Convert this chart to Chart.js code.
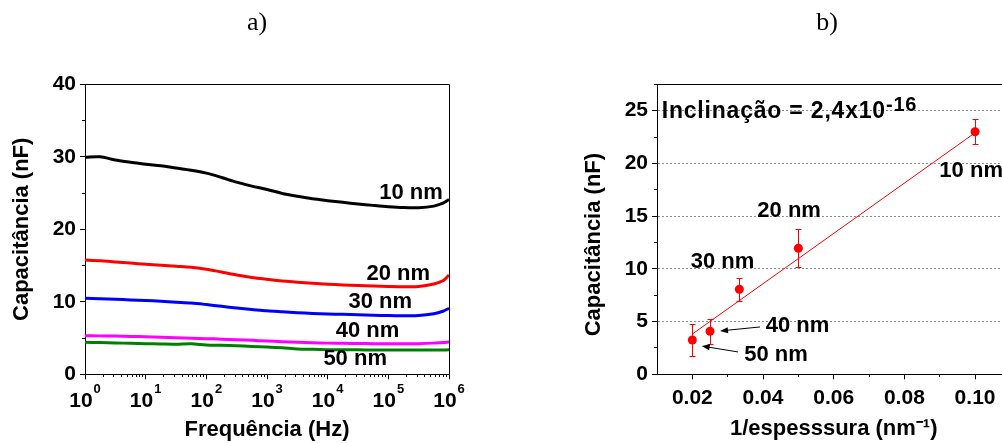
<!DOCTYPE html>
<html>
<head>
<meta charset="utf-8">
<script src="https://cdn.jsdelivr.net/npm/chart.js@4.4.1/dist/chart.umd.min.js"></script>
<style>
  html, body { margin: 0; padding: 0; background: #fff; overflow: hidden; }
  body { width: 1002px; height: 443px; position: relative; }
  canvas { position: absolute; top: 0; }
  .panel { position: absolute; top: 9px; width: 100px; text-align: center;
    font: 26px/26px 'Liberation Serif', 'Times New Roman', serif; color: #000; }
</style>
</head>
<body>
<canvas id="chartA" width="514" height="443" style="left:0"></canvas>
<canvas id="chartB" width="654" height="443" style="left:500px"></canvas>
<div class="panel" style="left:207px">a)</div>
<div class="panel" style="left:777px">b)</div>
<script>
// ---- a) capacitance vs frequency ----
const freqHz = [1, 1.78, 3.16, 5.62, 10, 17.8, 31.6, 56.2, 100, 178, 316, 562, 1000, 1780, 3160, 5620,
  1e4, 1.78e4, 3.16e4, 5.62e4, 1e5, 1.78e5, 3.16e5, 5.62e5, 7.94e5, 1e6];
const cap10nm = [29.95, 30.0, 29.55, 29.25, 28.97, 28.75, 28.45, 28.15, 27.75, 27.15, 26.5, 25.95, 25.5,
  24.95, 24.55, 24.2, 23.95, 23.72, 23.5, 23.3, 23.12, 23.0, 22.98, 23.2, 23.6, 24.1];
const cap20nm = [15.77, 15.65, 15.5, 15.35, 15.18, 15.05, 14.9, 14.75, 14.5, 14.1, 13.7, 13.35, 13.1,
  12.88, 12.7, 12.55, 12.42, 12.33, 12.25, 12.18, 12.12, 12.08, 12.1, 12.45, 12.9, 13.7];
const cap30nm = [10.48, 10.42, 10.35, 10.25, 10.17, 10.08, 9.95, 9.83, 9.62, 9.38, 9.15, 8.95, 8.75,
  8.62, 8.5, 8.4, 8.32, 8.27, 8.2, 8.15, 8.1, 8.08, 8.1, 8.35, 8.7, 9.1];
const cap40nm = [5.33, 5.3, 5.27, 5.22, 5.18, 5.12, 5.05, 4.98, 4.92, 4.85, 4.76, 4.68, 4.6,
  4.5, 4.42, 4.35, 4.3, 4.27, 4.25, 4.23, 4.22, 4.22, 4.23, 4.3, 4.38, 4.45];
const cap50nm = [4.41, 4.38, 4.33, 4.27, 4.22, 4.18, 4.15, 4.2, 4.05, 4.0, 3.93, 3.85, 3.76,
  3.65, 3.5, 3.44, 3.4, 3.38, 3.37, 3.36, 3.35, 3.35, 3.35, 3.35, 3.36, 3.37];
const freqTicks = [1, 10, 100, 1e3, 1e4, 1e5, 1e6];
const capTicksA = [0, 10, 20, 30, 40];
const capMinorA = [5, 15, 25, 35];
const labelsA = [
  { text: "10 nm", x: 2.36e5, y: 25.0 },
  { text: "20 nm", x: 1.46e5, y: 13.86 },
  { text: "30 nm", x: 7.35e4, y: 9.97 },
  { text: "40 nm", x: 4.53e4, y: 6.04 },
  { text: "50 nm", x: 2.84e4, y: 2.15 },
];

// ---- b) capacitance vs 1/thickness ----
const invThickness = [0.02, 0.025, 0.0333, 0.05, 0.10];
const capMeasured = [3.25, 4.08, 8.06, 11.95, 23.0];
const capError = [1.5, 1.17, 1.07, 1.82, 1.18];
const fitX = [0.02, 0.10];
const fitY = [3.82, 22.9];
const invTicks = [0.02, 0.04, 0.06, 0.08, 0.10];
const invMinor = [0.03, 0.05, 0.07, 0.09];
const capTicksB = [0, 5, 10, 15, 20, 25];
const capMinorB = [2.5, 7.5, 12.5, 17.5, 22.5, 27.5];
const labelsB = [
  { text: "Inclinação = 2,4x10", sup: "-16", x: 0.01133, y: 24.28, baseline: "alphabetic", size: 23, spacing: 0.8 },
  { text: "10 nm", x: 0.0899, y: 19.31 },
  { text: "20 nm", x: 0.03838, y: 15.51 },
  { text: "30 nm", x: 0.01954, y: 10.68 },
  { text: "40 nm", x: 0.04076, y: 4.58 },
  { text: "50 nm", x: 0.0347, y: 1.8 },
];
const arrowsB = [
  { from: [0.03915, 4.49], to: [0.02783, 4.11] },
  { from: [0.03292, 2.12], to: [0.02265, 2.68] },
];

const FONT = "'Liberation Sans', Arial, sans-serif";

Chart.defaults.font.family = FONT;
Chart.defaults.font.weight = "bold";
Chart.defaults.color = "#000";

function setTicks(values) {
  return (scale) => { scale.ticks = values.map((v) => ({ value: v })); };
}

// short minor ticks: an extra axis pinned on the main one
function minorAxis(type, axis, position, min, max, values) {
  return {
    type, axis, position, min, max,
    afterBuildTicks: setTicks(values),
    grid: { drawOnChartArea: false, tickLength: 3, tickColor: "#000" },
    border: { display: false },
    ticks: { display: false },
  };
}

const framePlugin = {
  id: "frame",
  afterDraw(chart) {
    const { ctx, chartArea: a } = chart;
    ctx.save();
    ctx.strokeStyle = "#000";
    ctx.lineWidth = 1;
    ctx.beginPath();
    ctx.moveTo(Math.round(a.left) + 0.5, Math.round(a.top) + 0.5);
    ctx.lineTo(Math.round(a.right) + 0.5, Math.round(a.top) + 0.5);
    ctx.lineTo(Math.round(a.right) + 0.5, Math.round(a.bottom) + 0.5);
    ctx.stroke();
    ctx.restore();
  },
};

// "10" with a raised exponent under each decade tick
const powerLabelPlugin = {
  id: "powerLabels",
  afterDraw(chart) {
    const { ctx, scales } = chart;
    const xs = scales.x;
    const base = Math.round(xs.bottom - 68.7 + 32.4);
    ctx.save();
    ctx.fillStyle = "#000";
    ctx.textBaseline = "alphabetic";
    ctx.textAlign = "left";
    xs.ticks.forEach((t) => {
      const px = xs.getPixelForValue(t.value);
      const exp = String(Math.round(Math.log10(t.value)));
      ctx.font = `bold 21px ${FONT}`;
      const w1 = ctx.measureText("10").width;
      ctx.font = `bold 13px ${FONT}`;
      const w2 = ctx.measureText(exp).width;
      const x0 = px - (w1 + w2 + 1) / 2;
      ctx.font = `bold 21px ${FONT}`;
      ctx.fillText("10", x0, base);
      ctx.font = `bold 13px ${FONT}`;
      ctx.fillText(exp, x0 + w1 + 1, base - 14);
    });
    ctx.restore();
  },
};

function notesPlugin(labels, arrows, align, size) {
  return {
    id: "notes",
    afterDatasetsDraw(chart) {
      const { ctx, scales } = chart;
      const xs = scales.x, ys = scales.y;
      ctx.save();
      ctx.fillStyle = "#000";
      ctx.strokeStyle = "#000";
      labels.forEach((l) => {
        const px = xs.getPixelForValue(l.x);
        const py = ys.getPixelForValue(l.y);
        ctx.letterSpacing = (l.spacing || 0) + "px";
        ctx.font = `bold ${l.size || size}px ${FONT}`;
        ctx.textAlign = align;
        ctx.textBaseline = l.baseline || "middle";
        ctx.fillText(l.text, px, py);
        if (l.sup) {
          const w = ctx.measureText(l.text).width;
          ctx.font = `bold 20px ${FONT}`;
          ctx.textAlign = "left";
          ctx.fillText(l.sup, px + w, py - 7);
        }
      });
      ctx.letterSpacing = "0px";
      arrows.forEach((a) => {
        const x1 = xs.getPixelForValue(a.from[0]), y1 = ys.getPixelForValue(a.from[1]);
        const x2 = xs.getPixelForValue(a.to[0]), y2 = ys.getPixelForValue(a.to[1]);
        const ang = Math.atan2(y2 - y1, x2 - x1);
        ctx.lineWidth = 1;
        ctx.beginPath();
        ctx.moveTo(x1, y1);
        ctx.lineTo(x2 - 6 * Math.cos(ang), y2 - 6 * Math.sin(ang));
        ctx.stroke();
        ctx.beginPath();
        ctx.moveTo(x2, y2);
        ctx.lineTo(x2 - 8 * Math.cos(ang) + 3 * Math.sin(ang), y2 - 8 * Math.sin(ang) - 3 * Math.cos(ang));
        ctx.lineTo(x2 - 8 * Math.cos(ang) - 3 * Math.sin(ang), y2 - 8 * Math.sin(ang) + 3 * Math.cos(ang));
        ctx.closePath();
        ctx.fill();
      });
      ctx.restore();
    },
  };
}

const errorBarPlugin = {
  id: "errorBars",
  beforeDatasetsDraw(chart) {
    const { ctx, scales } = chart;
    ctx.save();
    ctx.strokeStyle = "#ff0000";
    ctx.lineWidth = 1;
    invThickness.forEach((x, i) => {
      const px = Math.round(scales.x.getPixelForValue(x)) + 0.5;
      const top = Math.round(scales.y.getPixelForValue(capMeasured[i] + capError[i])) + 0.5;
      const bot = Math.round(scales.y.getPixelForValue(capMeasured[i] - capError[i])) + 0.5;
      ctx.beginPath();
      ctx.moveTo(px, top); ctx.lineTo(px, bot);
      ctx.moveTo(px - 3, top); ctx.lineTo(px + 3, top);
      ctx.moveTo(px - 3, bot); ctx.lineTo(px + 3, bot);
      ctx.stroke();
    });
    ctx.restore();
  },
};

function curve(values, color) {
  return {
    data: freqHz.map((f, i) => ({ x: f, y: values[i] })),
    borderColor: color,
    borderWidth: 3,
    pointRadius: 0,
    tension: 0.3,
    fill: false,
  };
}

const titleFont = { size: 22, weight: "bold" };
const tickFont = { size: 21, weight: "bold" };
const hidden = { legend: { display: false }, tooltip: { enabled: false } };

new Chart(document.getElementById("chartA"), {
  type: "line",
  data: {
    datasets: [
      curve(cap10nm, "#000000"),
      curve(cap20nm, "#ff0000"),
      curve(cap30nm, "#0000ff"),
      curve(cap40nm, "#ff00ff"),
      curve(cap50nm, "#008000"),
    ],
  },
  options: {
    responsive: false,
    animation: false,
    layout: { padding: { left: 0, right: 65, top: 84.3, bottom: 0 } },
    plugins: hidden,
    scales: {
      x: {
        type: "logarithmic", position: "bottom", min: 1, max: 1e6,
        afterBuildTicks: setTicks(freqTicks),
        afterFit: (s) => { s.height = 68.7; },
        grid: { drawOnChartArea: false, tickLength: 5, tickColor: "#000" },
        border: { color: "#000", width: 1 },
        ticks: { display: false },
        title: { display: true, text: "Frequência (Hz)", font: titleFont, padding: { top: 0, bottom: 0 } },
      },
      xMinor: minorAxis("logarithmic", "x", { y: 0 }, 1, 1e6,
        [2, 3, 4, 5, 6, 7, 8, 9].flatMap((d) => freqTicks.slice(0, 6).map((p) => d * p))),
      y: {
        type: "linear", position: "left", min: 0, max: 40,
        afterBuildTicks: setTicks(capTicksA),
        afterFit: (s) => { s.width = 85; },
        grid: { drawOnChartArea: false, tickLength: 5, tickColor: "#000" },
        border: { color: "#000", width: 1 },
        ticks: { padding: 4, font: tickFont },
        title: { display: true, text: "Capacitância (nF)", font: titleFont, padding: { top: 9 } },
      },
      yMinor: minorAxis("linear", "y", { x: 1 }, 0, 40, capMinorA),
    },
  },
  plugins: [framePlugin, powerLabelPlugin, notesPlugin(labelsA, [], "center", 22)],
});

new Chart(document.getElementById("chartB"), {
  type: "scatter",
  data: {
    datasets: [
      {
        data: invThickness.map((x, i) => ({ x, y: capMeasured[i] })),
        backgroundColor: "#ff0000",
        borderWidth: 0,
        pointRadius: 4.5,
        order: 0,
      },
      {
        type: "line",
        data: fitX.map((x, i) => ({ x, y: fitY[i] })),
        borderColor: "#ff0000",
        borderWidth: 1,
        pointRadius: 0,
        order: 1,
      },
    ],
  },
  options: {
    responsive: false,
    animation: false,
    layout: { padding: { left: 0, right: 143.6, top: 84.3, bottom: 0 } },
    plugins: hidden,
    scales: {
      x: {
        type: "linear", position: "bottom", min: 0.01, max: 0.11,
        afterBuildTicks: setTicks(invTicks),
        afterFit: (s) => { s.height = 68.7; },
        grid: { drawOnChartArea: false, tickLength: 5, tickColor: "#000" },
        border: { color: "#000", width: 1 },
        ticks: { autoSkip: false, maxRotation: 0, padding: 6, font: tickFont, callback: (v) => v.toFixed(2) },
        title: { display: true, text: "1/espesssura (nm⁻¹)", font: titleFont, padding: { top: 0, bottom: 1 } },
      },
      xMinor: minorAxis("linear", "x", { y: 0 }, 0.01, 0.11, invMinor),
      y: {
        type: "linear", position: "left", min: 0, max: 27.5,
        afterBuildTicks: setTicks(capTicksB),
        afterFit: (s) => { s.width = 157; },
        grid: {
          drawOnChartArea: true, tickLength: 5, tickColor: "#000",
          color: (c) => (c.tick && c.tick.value === 0 ? "rgba(0,0,0,0)" : "#8c8c8c"),
        },
        border: { color: "#000", width: 1, dash: [2, 2] },
        ticks: { padding: 4, font: tickFont },
        title: { display: true, text: "Capacitância (nF)     ", font: titleFont, padding: { top: 81 } },
      },
      yMinor: minorAxis("linear", "y", { x: 0.01 }, 0, 27.5, capMinorB),
    },
  },
  plugins: [errorBarPlugin, framePlugin, notesPlugin(labelsB, arrowsB, "left", 22)],
});
</script>
</body>
</html>
